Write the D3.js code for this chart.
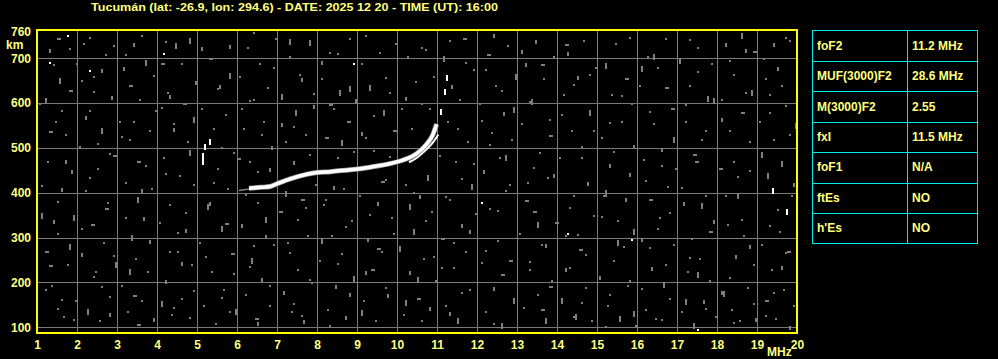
<!DOCTYPE html>
<html>
<head>
<meta charset="utf-8">
<script src="https://cdn.jsdelivr.net/npm/d3@7"></script>
<style>
  body { margin: 0; background: #000; }
  svg { display: block; }
  text { font-family: "Liberation Sans", Arial, sans-serif; font-weight: bold; fill: #ffff80; }
</style>
</head>
<body>
<div id="chart"></div>
<script>
// ionogram data (frequency MHz, virtual height km)
var freqTicks = d3.range(1, 21)
var heightTicks = [100, 200, 300, 400, 500, 600, 700, 760]
var gridHeights = [100, 200, 300, 400, 500, 600, 700]

var oTrace = [[6.3, 410], [6.6, 412], [6.83, 414], [7.0, 420], [7.33, 431], [7.74, 441], [8.0, 445],
    [8.33, 447], [8.83, 451], [9.33, 457], [9.83, 465], [10.16, 473], [10.49, 487], [10.74, 508],
    [10.9, 530], [10.99, 553]]
var xTrace = [[10.3, 468], [10.5, 478], [10.66, 490], [10.83, 505], [10.95, 518], [11.03, 530]]
var faintTrace = [[6.05, 405], [6.3, 408], [6.6, 411], [6.9, 413]]
var topEchoes = [[11.1, 581], [11.2, 625], [11.24, 655], [5.2, 503], [5.16, 482], [5.16, 468], [5.33, 514], [19.4, 404], [19.74, 357]]
var whiteSpecks = [[1.74, 752], [1.3, 692], [2.29, 674], [4.14, 712], [14.24, 311], [15.85, 297], [17.5, 96], [12.1, 380], [8.9, 690]]

var noise = [[1.5,745],[2.3,748],[2.9,730],[3.6,752],[4.2,738],[5.1,725],[6.4,758],[7.3,744],[9.2,751],[11.3,740],[12.4,755],[14.2,731],[15.8,748],[17.3,742],[18.6,757],[19.4,735],[1.8,722],[3.2,710],[8.5,712],[10.6,725],[13.1,718],[16.4,709],[18.9,716],[19.7,748],
    [1.4,688],[2.6,675],[3.9,662],[4.6,690],[5.8,668],[6.9,681],[8.1,694],[9.7,659],[12.2,676],[13.6,688],[14.8,664],[16.1,683],[17.5,671],[18.3,696],[19.2,655],[2.1,652],[7.6,657],[11.7,692],
    [1.2,612],[2.4,628],[3.3,641],[4.3,618],[5.5,633],[6.3,607],[7.9,622],[8.8,637],[10.2,614],[12.6,629],[13.3,605],[14.4,643],[15.6,618],[16.7,636],[17.9,611],[18.7,624],[19.6,640],
    [1.6,585],[2.2,571],[3.4,560],[4.1,592],[4.9,568],[6.1,589],[7.1,556],[8.3,597],[9.4,574],[10.8,588],[12.1,563],[12.9,591],[14.1,576],[15.3,557],[16.3,583],[17.2,598],[18.1,566],[19.3,579],
    [1.3,538],[2.5,512],[3.1,527],[4.4,545],[5.6,503],[6.6,531],[7.4,548],[8.6,518],[9.1,536],[11.5,544],[12.3,509],[13.8,528],[14.9,541],[15.9,506],[16.9,524],[17.7,539],[18.8,515],[19.8,530],
    [1.7,472],[2.8,488],[3.7,461],[4.8,495],[6.0,478],[6.8,456],[7.8,487],[8.9,492],[9.8,482],[11.9,466],[12.7,484],[13.4,457],[14.6,479],[15.4,493],[16.6,462],[17.4,486],[18.4,470],[19.1,491],
    [1.1,418],[2.3,436],[3.6,408],[4.2,444],[5.4,425],[6.5,448],[7.2,404],[8.4,415],[9.6,427],[10.4,402],[11.6,432],[12.8,419],[13.9,441],[15.2,406],[16.2,428],[17.1,413],[18.5,437],[19.9,421],
    [1.5,382],[2.7,365],[3.5,391],[4.7,358],[5.3,379],[6.2,396],[7.7,368],[8.2,387],[9.3,352],[10.3,374],[11.2,393],[12.5,361],[13.2,384],[14.3,369],[15.7,389],[16.8,357],[17.6,376],[18.2,394],[19.5,364],
    [1.4,338],[2.1,321],[3.2,346],[4.5,312],[5.7,333],[6.7,305],[7.5,342],[8.7,326],[9.9,311],[10.7,339],[11.8,317],[13.5,334],[14.5,308],[15.1,347],[16.5,322],[17.8,314],[18.6,341],[19.3,327],
    [1.8,286],[2.9,262],[3.8,294],[4.3,271],[5.2,258],[6.4,283],[7.3,267],[8.1,298],[9.5,276],[10.9,259],[11.4,291],[12.2,272],[13.7,286],[14.7,263],[15.5,295],[16.3,278],[17.3,256],[18.8,284],[19.7,268],
    [1.3,238],[2.4,214],[3.3,229],[4.6,246],[5.9,221],[6.3,237],[7.8,208],[8.5,243],[9.2,226],[10.5,211],[11.1,235],[12.6,219],[13.3,248],[14.2,232],[15.8,205],[16.7,241],[17.5,224],[18.3,213],[19.6,236],
    [1.2,186],[1.6,162],[2.6,191],[3.4,171],[4.1,158],[4.9,183],[5.6,167],[6.8,194],[7.4,153],[8.8,176],[9.7,189],[10.2,161],[11.6,179],[12.9,166],[13.8,192],[14.6,157],[15.3,174],[16.1,188],[17.2,163],[18.1,181],[18.9,155],[19.4,178],
    [1.5,142],[1.9,118],[2.8,131],[3.5,107],[4.4,146],[4.8,122],[5.8,137],[6.5,112],[7.6,128],[8.3,104],[9.1,139],[10.6,116],[11.3,133],[12.4,109],[13.6,141],[14.4,124],[15.2,103],[15.9,136],[16.6,119],[17.7,143],[18.4,111],[19.2,127],[19.8,102]]

var noise2 = [[1.05,600],[1.1,355],[1.2,270],[1.25,470],[1.3,720],[1.35,195],[1.45,560],[1.5,310],[1.55,655],[1.6,410],[1.65,125],[1.7,530],[1.75,240],[1.8,630],[1.85,450],[1.9,350],[1.95,160],[1.98,690],
    [2.05,505],[2.1,265],[2.15,735],[2.2,405],[2.25,140],[2.3,585],[2.35,330],[2.4,660],[2.45,225],[2.5,455],[2.55,115],[2.6,545],[2.65,290],[2.7,710],[2.75,380],[2.8,170],[2.85,615],[2.9,485],[2.95,245],
    [3.05,560],[3.1,195],[3.15,680],[3.2,425],[3.25,135],[3.3,520],[3.35,305],[3.4,735],[3.45,255],[3.5,470],[3.55,610],[3.6,160],[3.65,345],[3.7,695],[3.75,225],[3.8,540],[3.85,410],[3.9,120],[3.95,585],
    [4.05,335],[4.1,690],[4.15,480],[4.2,205],[4.25,625],[4.3,375],[4.35,130],[4.4,555],[4.45,735],[4.5,270],[4.55,440],[4.6,165],[4.65,600],[4.7,320],[4.75,515],[4.8,745],[4.85,240],[4.9,420],[4.95,650],
    [5.05,290],[5.1,590],[5.15,150],[5.25,375],[5.3,700],[5.35,225],[5.4,545],[5.45,110],[5.5,455],[5.55,640],[5.6,325],[5.65,185],[5.7,575],[5.75,410],[5.8,730],[5.85,265],[5.9,490],[5.95,140],
    [6.05,660],[6.1,330],[6.15,545],[6.2,175],[6.25,725],[6.3,470],[6.35,255],[6.4,610],[6.45,120],[6.5,380],[6.55,690],[6.6,210],[6.65,560],[6.7,345],[6.75,635],[6.8,150],[6.85,505],[6.9,285],[6.95,745],
    [7.05,360],[7.1,620],[7.15,180],[7.2,515],[7.25,290],[7.3,705],[7.35,135],[7.4,470],[7.45,585],[7.5,230],[7.55,665],[7.6,385],[7.65,115],[7.7,530],[7.75,305],[7.8,740],[7.85,200],[7.9,595],[7.95,420],
    [8.05,250],[8.1,655],[8.15,375],[8.2,525],[8.25,140],[8.3,715],[8.35,305],[8.4,590],[8.45,195],[8.5,480],[8.55,630],[8.6,265],[8.65,410],[8.7,125],[8.75,560],[8.8,745],[8.85,340],[8.9,215],[8.95,610],
    [9.05,395],[9.1,690],[9.15,160],[9.2,525],[9.25,300],[9.3,640],[9.35,230],[9.4,495],[9.45,115],[9.5,380],[9.55,715],[9.6,270],[9.65,585],[9.7,430],[9.75,175],[9.8,625],[9.85,345],[9.9,540],[9.95,735],
    [10.05,280],[10.1,590],[10.15,130],[10.2,420],[10.25,705],[10.3,225],[10.35,545],[10.4,320],[10.45,650],[10.5,165],[10.55,395],[10.6,600],[10.65,255],[10.7,720],[10.75,440],[10.8,145],[10.85,360],[10.9,660],[10.95,205],
    [11.05,485],[11.1,300],[11.15,705],[11.2,150],[11.25,560],[11.3,385],[11.35,640],[11.4,235],[11.45,470],[11.5,120],[11.55,610],[11.6,330],[11.65,745],[11.7,270],[11.75,515],[11.8,185],[11.85,420],[11.9,675],[11.95,355],
    [12.05,600],[12.1,245],[12.15,450],[12.2,135],[12.25,710],[12.3,365],[12.35,535],[12.4,190],[12.45,640],[12.5,295],[12.55,480],[12.6,110],[12.65,580],[12.7,405],[12.75,730],[12.8,250],[12.85,520],[12.9,160],[12.95,665],
    [13.05,310],[13.1,555],[13.15,145],[13.2,690],[13.25,425],[13.3,230],[13.35,610],[13.4,360],[13.45,740],[13.5,175],[13.55,490],[13.6,285],[13.65,655],[13.7,120],[13.75,435],[13.8,565],[13.85,205],[13.9,705],[13.95,335],
    [14.05,480],[14.1,165],[14.15,620],[14.2,305],[14.25,715],[14.3,235],[14.35,540],[14.4,395],[14.45,130],[14.5,660],[14.55,275],[14.6,505],[14.65,740],[14.7,190],[14.75,425],[14.8,585],[14.85,115],[14.9,350],[14.95,680],
    [15.05,215],[15.1,525],[15.15,395],[15.2,690],[15.25,150],[15.3,465],[15.35,620],[15.4,250],[15.45,735],[15.5,340],[15.55,125],[15.6,560],[15.65,280],[15.7,655],[15.75,195],[15.8,445],[15.85,600],[15.9,320],[15.95,105],
    [16.05,640],[16.1,300],[16.15,475],[16.2,140],[16.25,705],[16.3,385],[16.35,235],[16.4,555],[16.45,120],[16.5,680],[16.55,345],[16.6,500],[16.65,200],[16.7,745],[16.75,415],[16.8,165],[16.85,590],[16.9,285],[16.95,455],
    [17.05,700],[17.1,135],[17.15,380],[17.2,560],[17.25,225],[17.3,640],[17.35,300],[17.4,110],[17.45,470],[17.5,725],[17.55,255],[17.6,520],[17.65,160],[17.7,395],[17.75,615],[17.8,205],[17.85,690],[17.9,340],[17.95,125],
    [18.05,455],[18.1,610],[18.15,180],[18.2,735],[18.25,330],[18.3,540],[18.35,140],[18.4,665],[18.45,260],[18.5,400],[18.55,115],[18.6,580],[18.65,305],[18.7,720],[18.75,190],[18.8,450],[18.85,630],[18.9,240],[18.95,120],
    [19.05,560],[19.1,285],[19.15,700],[19.2,160],[19.25,445],[19.3,620],[19.35,230],[19.4,520],[19.45,120],[19.5,680],[19.55,315],[19.6,470],[19.65,185],[19.7,595],[19.75,270],[19.8,740],[19.85,395],[19.9,150],[19.95,555]]

var paramNames = ["foF2", "MUF(3000)F2", "M(3000)F2", "fxI", "foF1", "ftEs", "h'Es"]
var paramValues = ["11.2 MHz", "28.6 MHz", "2.55", "11.5 MHz", "N/A", "NO", "NO"]

var titleText = "Tucumán (lat: -26.9, lon: 294.6) - DATE: 2025 12 20 - TIME (UT): 16:00"

var width = 998
var height = 359

var svg = d3.select("#chart")
    .append("svg")
    .attr("width", width)
    .attr("height", height)
    .style("background", "#000")

var x = d3.scaleLinear().domain([1, 20]).range([37, 797])
var y = d3.scaleLinear().domain([87, 763]).range([333, 30])

// grid
svg.append("g")
    .selectAll("line")
    .data(freqTicks.filter(function(d) { return d > 1 && d < 20 }))
    .enter()
    .append("line")
    .attr("x1", function(d) { return Math.round(x(d)) + 0.5 })
    .attr("x2", function(d) { return Math.round(x(d)) + 0.5 })
    .attr("y1", 30)
    .attr("y2", 333)
    .attr("stroke", "#7a7a7a")

svg.append("g")
    .selectAll("line")
    .data(gridHeights)
    .enter()
    .append("line")
    .attr("x1", 37)
    .attr("x2", 797)
    .attr("y1", function(d) { return Math.round(y(d)) + 0.5 })
    .attr("y2", function(d) { return Math.round(y(d)) + 0.5 })
    .attr("stroke", "#7a7a7a")

// noise speckle, small blocks of varying shape
function speckW(i) { return i % 11 == 0 ? 4 : 2 }
function speckH(i) { return i % 11 == 0 ? 2 : (i % 7 == 0 ? 6 : (i % 5 == 0 ? 4 : 2)) }

svg.append("g")
    .selectAll("rect")
    .data(noise.concat(noise2))
    .enter()
    .append("rect")
    .attr("x", function(d) { return Math.round(x(d[0])) })
    .attr("y", function(d) { return Math.round(y(d[1])) })
    .attr("width", function(d, i) { return speckW(i) })
    .attr("height", function(d, i) { return speckH(i) })
    .attr("fill", "#808080")

svg.append("g")
    .selectAll("rect")
    .data(whiteSpecks)
    .enter()
    .append("rect")
    .attr("x", function(d) { return Math.round(x(d[0])) })
    .attr("y", function(d) { return Math.round(y(d[1])) })
    .attr("width", 2)
    .attr("height", 2)
    .attr("fill", "#fff")

// echo traces
var line = d3.line()
    .x(function(d) { return x(d[0]) })
    .y(function(d) { return y(d[1]) })
    .curve(d3.curveMonotoneX)

svg.append("path")
    .attr("d", line(faintTrace))
    .attr("fill", "none")
    .attr("stroke", "#909090")
    .attr("stroke-width", 1.5)

svg.append("path")
    .attr("d", line(oTrace))
    .attr("fill", "none")
    .attr("stroke", "#a0a0a0")
    .attr("stroke-width", 5)

svg.append("path")
    .attr("d", line(oTrace))
    .attr("fill", "none")
    .attr("stroke", "#fff")
    .attr("stroke-width", 3.5)

svg.append("path")
    .attr("d", line(xTrace))
    .attr("fill", "none")
    .attr("stroke", "#fff")
    .attr("stroke-width", 2)

svg.append("g")
    .selectAll("rect")
    .data(topEchoes)
    .enter()
    .append("rect")
    .attr("x", function(d) { return Math.round(x(d[0])) - 1 })
    .attr("y", function(d) { return Math.round(y(d[1])) - 3 })
    .attr("width", 2)
    .attr("height", 6)
    .attr("fill", "#fff")

// frame
svg.append("rect")
    .attr("x", 37)
    .attr("y", 30)
    .attr("width", 760)
    .attr("height", 303)
    .attr("fill", "none")
    .attr("stroke", "#ffff00")
    .attr("stroke-width", 2)

// axes
var xAxis = svg.append("g")
    .attr("transform", "translate(0,333)")
    .call(d3.axisBottom(x).tickValues(freqTicks).tickSize(0).tickPadding(7).tickFormat(d3.format("d")))
xAxis.select(".domain").remove()
xAxis.selectAll("text").style("font-size", "12px").attr("fill", "#ffff80")

var yAxis = svg.append("g")
    .attr("transform", "translate(36,0)")
    .call(d3.axisLeft(y).tickValues(heightTicks).tickSize(0).tickPadding(5).tickFormat(d3.format("d")))
yAxis.select(".domain").remove()
yAxis.selectAll("text").style("font-size", "12px").attr("fill", "#ffff80")

svg.append("text")
    .attr("x", 6)
    .attr("y", 49)
    .style("font-size", "12px")
    .text("km")

svg.append("text")
    .attr("x", 767)
    .attr("y", 356)
    .style("font-size", "12px")
    .text("MHz")

svg.append("text")
    .attr("x", 91)
    .attr("y", 11)
    .attr("textLength", 407)
    .attr("lengthAdjust", "spacingAndGlyphs")
    .style("font-size", "11px")
    .text(titleText)

// parameter table
var rowY = d3.scaleLinear().domain([0, paramNames.length]).range([30.5, 243.5])
var table = svg.append("g")

table.append("rect")
    .attr("x", 812.5)
    .attr("y", rowY(0))
    .attr("width", 165)
    .attr("height", rowY(paramNames.length) - rowY(0))
    .attr("fill", "none")
    .attr("stroke", "#00e8e8")

table.selectAll(".rowline")
    .data(d3.range(1, paramNames.length))
    .enter()
    .append("line")
    .attr("x1", 812.5)
    .attr("x2", 977.5)
    .attr("y1", function(d) { return Math.round(rowY(d)) + 0.5 })
    .attr("y2", function(d) { return Math.round(rowY(d)) + 0.5 })
    .attr("stroke", "#00e8e8")

table.append("line")
    .attr("x1", 907.5)
    .attr("x2", 907.5)
    .attr("y1", rowY(0))
    .attr("y2", rowY(paramNames.length))
    .attr("stroke", "#00e8e8")

table.selectAll(".pname")
    .data(paramNames)
    .enter()
    .append("text")
    .attr("x", 817)
    .attr("y", function(d, i) { return (rowY(i) + rowY(i + 1)) / 2 + 4 })
    .style("font-size", "12px")
    .text(function(d) { return d })

table.selectAll(".pval")
    .data(paramValues)
    .enter()
    .append("text")
    .attr("x", 912)
    .attr("y", function(d, i) { return (rowY(i) + rowY(i + 1)) / 2 + 4 })
    .style("font-size", "12px")
    .text(function(d) { return d })
</script>
</body>
</html>
